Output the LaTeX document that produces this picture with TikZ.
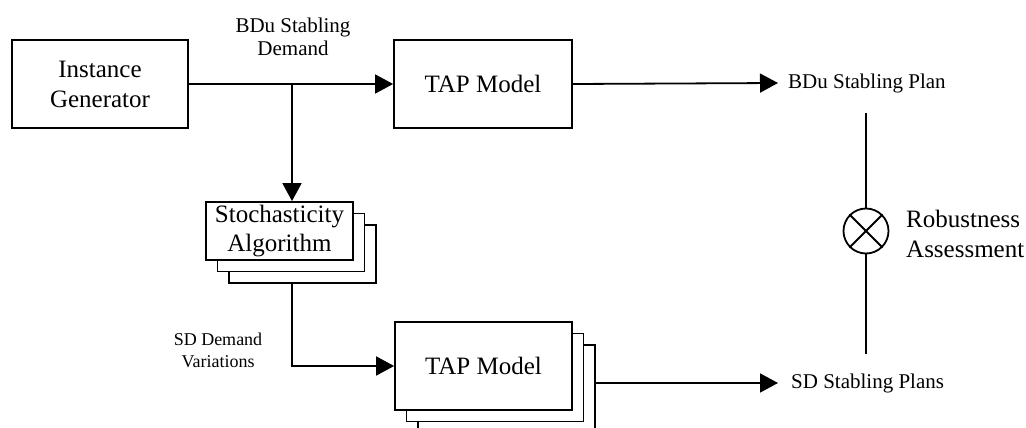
\documentclass[tikz,border=0pt]{standalone}
\usepackage{fontspec}
\setmainfont{Liberation Serif}
\usetikzlibrary{arrows.meta}

\tikzset{
  box/.style={draw, line width=1.8pt, fill=white, inner sep=2pt, align=center,
    font=\fontsize{25}{30}\selectfont},
  bigtext/.style={font=\fontsize{25}{30}\selectfont, inner sep=0pt},
  midtext/.style={font=\fontsize{21}{23}\selectfont, inner sep=0pt, align=center},
  smalltext/.style={font=\fontsize{18}{22}\selectfont, inner sep=0pt, align=center},
  link/.style={line width=1.8pt},
  arr/.style={link, -{Triangle[length=18pt,width=19pt]}},
}

\begin{document}
\begin{tikzpicture}[x=1pt, y=-1pt]
\clip (0,0) rectangle (1026,428);

% main blocks
\node[box, minimum width=176pt, minimum height=88pt] (ig) at (100,84) {Instance\\Generator};
\node[box, minimum width=178pt, minimum height=88pt] (tm) at (483,84) {TAP Model};

% stacked stochasticity blocks
\node[box, minimum width=147pt, minimum height=58pt] (sa3) at (302.5,254) {};
\node[box, minimum width=147pt, minimum height=58pt] (sa2) at (291,242.5) {};
\node[box, minimum width=147pt, minimum height=58pt] (sa1) at (279.5,231) {Stochasticity\\[-1pt]Algorithm};

% stacked TAP model blocks
\node[box, minimum width=177pt, minimum height=88pt] (tl3) at (506.5,389) {};
\node[box, minimum width=177pt, minimum height=88pt] (tl2) at (495,377.5) {};
\node[box, minimum width=177pt, minimum height=88pt] (tl1) at (483.5,366) {TAP Model};

% labels
\node[midtext] (dem) at (293,37) {BDu Stabling\\Demand};
\node[smalltext] (var) at (218,350) {SD Demand\\Variations};
\node[midtext, anchor=west, inner xsep=10pt] (plan) at (778,83) {BDu Stabling Plan};
\node[midtext, anchor=west, inner xsep=13pt] (plans) at (778,383) {SD Stabling Plans};

% robustness assessment
\node[draw, circle, line width=1.8pt, minimum size=45pt, inner sep=0pt] (rc) at (866,231) {};
\draw[link] (rc.north west) -- (rc.south east);
\draw[link] (rc.north east) -- (rc.south west);
\node[bigtext, anchor=west, align=left] (ra) at (906,234) {Robustness\\Assessment};
\coordinate (rtop) at (866,113);
\coordinate (rbot) at (866,354);
\draw[link] (rtop) -- (rc.north);
\draw[link] (rc.south) -- (rbot);

% connectors
\coordinate (br) at (292,84);
\draw[arr] (ig.east) -- (tm.west);
\draw[arr] (br) -- (br |- sa1.north);
\draw[arr] (br |- sa3.south) |- (tl1.west);
\draw[arr] (tm.east) -- (plan.west);
\draw[arr] ([yshift=6pt]tl3.east) -- (plans.west);
\end{tikzpicture}
\end{document}
